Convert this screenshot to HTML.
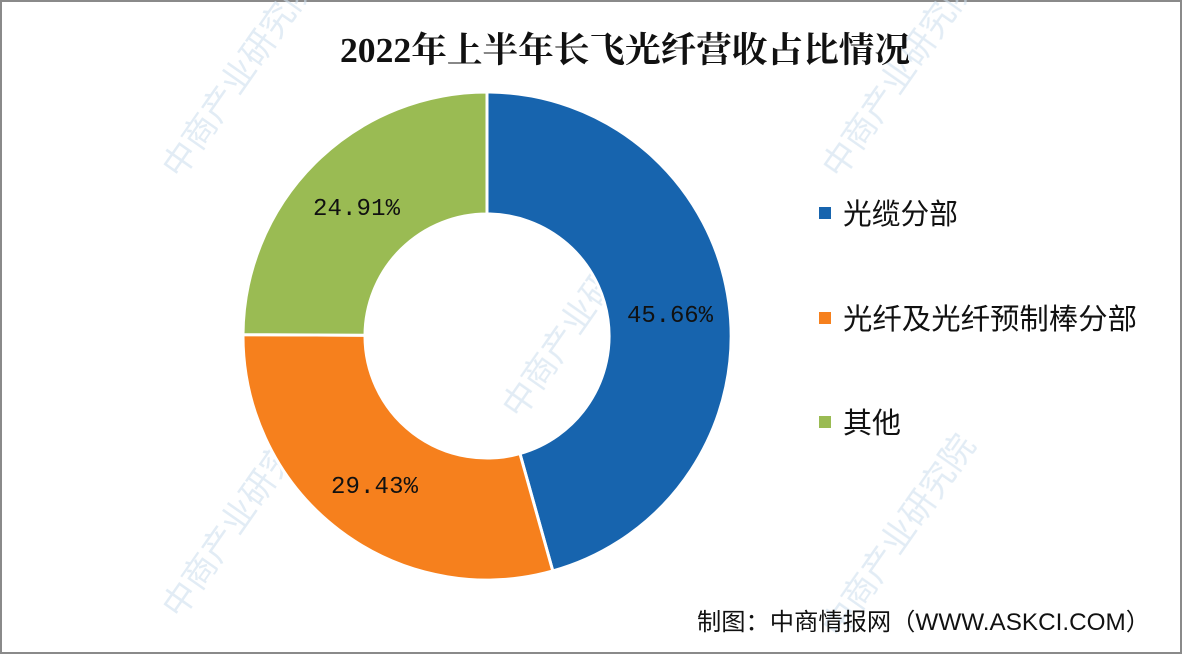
<!DOCTYPE html>
<html><head><meta charset="utf-8"><style>
html,body{margin:0;padding:0;background:#fff;}
.wrap{position:relative;width:1182px;height:654px;overflow:hidden;background:#fff;}
.s{font-family:"Liberation Sans","Noto Sans CJK SC",sans-serif;}
.m{font-family:"Liberation Mono",monospace;}
.t{font-family:"Liberation Serif","Noto Serif CJK SC",serif;}
.w{font-family:"Noto Sans CJK SC",sans-serif;}
</style></head><body><div class="wrap">
<svg width="1182" height="654" viewBox="0 0 1182 654" xmlns="http://www.w3.org/2000/svg">
<rect x="1" y="1" width="1180" height="652" fill="#fff" stroke="#8a8a8a" stroke-width="2"/>
<g fill="#cfe0ee" font-size="34" opacity="0.6">
<text class="w" transform="translate(180,180) rotate(-55)">中商产业研究院</text>
<text class="w" transform="translate(520,420) rotate(-55)">中商产业研究院</text>
<text class="w" transform="translate(840,180) rotate(-55)">中商产业研究院</text>
<text class="w" transform="translate(180,620) rotate(-55)">中商产业研究院</text>
<text class="w" transform="translate(840,640) rotate(-55)">中商产业研究院</text>
</g>
<text class="t" x="625" y="62" text-anchor="middle" font-size="35" font-weight="bold" fill="#111" textLength="570" lengthAdjust="spacingAndGlyphs">2022年上半年长飞光纤营收占比情况</text>
<g stroke="#fff" stroke-width="3">
<path d="M487,92 A244,244 0 0 1 552.8,571 L519.9,453.5 A122,122 0 0 0 487,214 Z" fill="#1764ae"/>
<path d="M552.8,571 A244,244 0 0 1 243,334.6 L365,335.3 A122,122 0 0 0 519.9,453.5 Z" fill="#f6801d"/>
<path d="M243,334.6 A244,244 0 0 1 487,92 L487,214 A122,122 0 0 0 365,335.3 Z" fill="#9abb53"/>
</g>
<g font-size="24" fill="#111">
<text class="m" x="313" y="215" textLength="87">24.91%</text>
<text class="m" x="627" y="322" textLength="86">45.66%</text>
<text class="m" x="331" y="493" textLength="87">29.43%</text>
</g>
<rect x="819" y="207" width="12" height="12" fill="#1764ae"/>
<rect x="819" y="312" width="12" height="12" fill="#f6801d"/>
<rect x="819" y="416" width="12" height="12" fill="#9abb53"/>
<g font-size="29" fill="#111">
<text class="s" x="843" y="224" textLength="115" lengthAdjust="spacingAndGlyphs">光缆分部</text>
<text class="s" x="843" y="329" textLength="294" lengthAdjust="spacingAndGlyphs">光纤及光纤预制棒分部</text>
<text class="s" x="843" y="433" textLength="58" lengthAdjust="spacingAndGlyphs">其他</text>
</g>
<text class="s" x="697" y="630" font-size="24" fill="#111" textLength="453" lengthAdjust="spacingAndGlyphs">制图：中商情报网（WWW.ASKCI.COM）</text>
</svg>
</div></body></html>
